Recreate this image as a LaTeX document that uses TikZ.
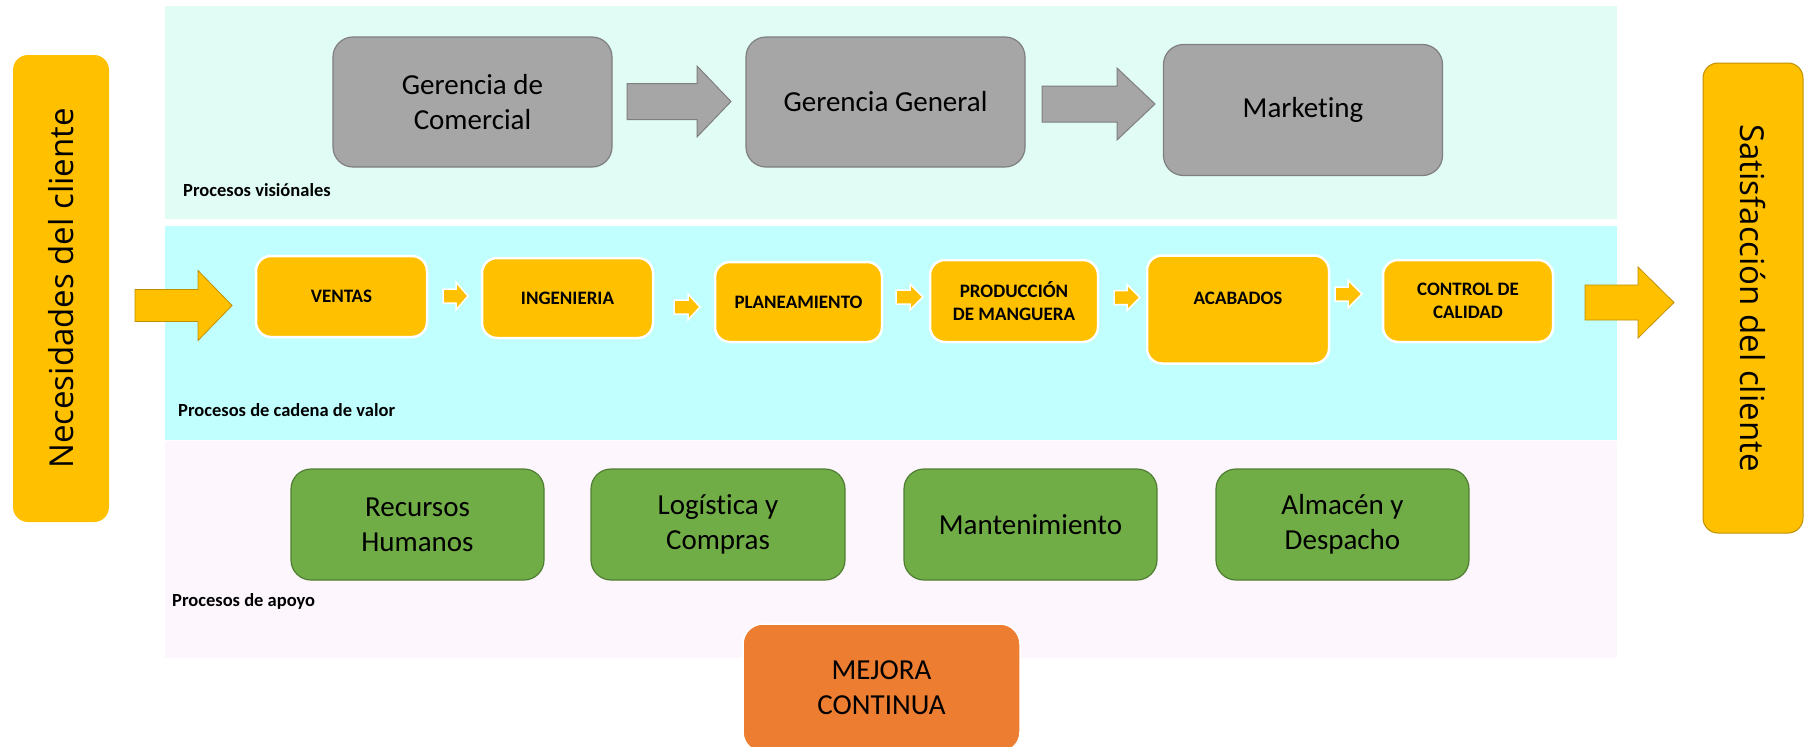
\documentclass[tikz,border=0pt]{standalone}
\usepackage{fontspec}
\setmainfont{Carlito}[Ligatures=NoCommon]
\newfontfamily\osans{Open Sans}
\usetikzlibrary{positioning}
\definecolor{bandA}{HTML}{E1FCF4}
\definecolor{bandB}{HTML}{C1FFFF}
\definecolor{bandC}{HTML}{FDF6FD}
\definecolor{gold}{HTML}{FFC000}
\definecolor{goldline}{HTML}{BF9000}
\definecolor{grayfill}{HTML}{A6A6A6}
\definecolor{grayline}{HTML}{7F7F7F}
\definecolor{greenfill}{HTML}{70AD47}
\definecolor{greenline}{HTML}{507E32}
\definecolor{orangefill}{HTML}{ED7D31}
\newcommand{\bigfont}{\fontsize{29}{35}\selectfont}
\newcommand{\smallbold}{\fontsize{19}{23}\selectfont\bfseries}
\newcommand{\bandfont}{\fontsize{18.5}{22}\selectfont\bfseries}
\newcommand{\sidefont}{\osans\fontsize{33}{40}\selectfont}
% block arrow: x0, xtip, xhead, yc, shaft half, head half, style
\newcommand{\blockarrow}[7]{%
  \draw[#7] (#1,#4-#5) -- (#3,#4-#5) -- (#3,#4-#6) -- (#2,#4) -- (#3,#4+#6) -- (#3,#4+#5) -- (#1,#4+#5) -- cycle;}
\begin{document}
\begin{tikzpicture}[x=1pt,y=-1pt,
  graybox/.style={rectangle, rounded corners=20pt, fill=grayfill, draw=grayline, line width=1.2pt,
    minimum width=279pt, minimum height=130pt, inner sep=0pt, align=center, font=\bigfont},
  valuebox/.style={rectangle, rounded corners=15pt, fill=gold, draw=white, line width=2.5pt,
    inner sep=0pt, align=center, font=\smallbold},
  greenbox/.style={rectangle, rounded corners=20pt, fill=greenfill, draw=greenline, line width=1.2pt,
    minimum width=253pt, minimum height=111pt, inner sep=0pt, align=center, font=\bigfont},
  sidebox/.style={rectangle, rounded corners=15pt, fill=gold, inner sep=0pt, font=\sidefont},
  grayarrow/.style={fill=grayfill, draw=grayline, line width=1pt},
  bigarrow/.style={fill=gold, draw=goldline, line width=0.8pt},
  smallarrow/.style={fill=gold, draw=white, line width=1.5pt, line join=miter},
  bandlabel/.style={font=\bandfont, anchor=base west, inner sep=0pt}
]
\clip (0,0) rectangle (1805,747);
\fill[white] (0,0) rectangle (1805,747);

% bands
\fill[bandA] (165,6) rectangle (1617,219);
\fill[bandB] (165,226) rectangle (1617,440);
\fill[bandC] (165,441) rectangle (1617,658);

% side boxes
\node[sidebox, rotate=90, minimum width=467pt, minimum height=96pt] (nec) at (61,288.5) {Necesidades del cliente};
\node[sidebox, rotate=-90, draw=goldline, line width=1pt, minimum width=470pt, minimum height=100pt] (sat) at (1753,298) {Satisfacción del cliente};

% visionary processes
\node[graybox] (gc) at (472.5,102) {Gerencia de\\Comercial};
\node[graybox] (gg) at (885.5,102) {Gerencia General};
\node[graybox, minimum height=131pt] (mk) at (1303,110) {Marketing};
\blockarrow{627}{731}{697}{101.5}{18}{35.5}{grayarrow}
\blockarrow{1042}{1155}{1117}{104}{18}{36}{grayarrow}
\node[bandlabel] (lv) at (183,196) {Procesos visiónales};

% value chain
\node[valuebox, minimum width=171pt, minimum height=81pt] (ven) at (341.5,296.5) {VENTAS};
\node[valuebox, minimum width=171pt, minimum height=80pt] (ing) at (567.5,298) {INGENIERIA};
\node[valuebox, minimum width=167pt, minimum height=80pt] (pla) at (798.5,302) {PLANEAMIENTO};
\node[valuebox, minimum width=168pt, minimum height=82pt] (pro) at (1014,301) {PRODUCCIÓN\\DE MANGUERA};
\node[valuebox, minimum width=182pt, minimum height=108pt] (aca) at (1238,309.5) {};
\node[font=\smallbold, inner sep=0pt] (acat) at ([yshift=11.5pt]aca.center) {ACABADOS};
\node[valuebox, minimum width=170pt, minimum height=82pt] (cal) at (1468,301) {CONTROL DE\\CALIDAD};

\blockarrow{135}{232}{198}{305.5}{16}{35}{bigarrow}
\blockarrow{1585}{1674}{1638}{302.5}{17.5}{35.5}{bigarrow}
\blockarrow{443}{468}{456}{296}{7}{14}{smallarrow}
\blockarrow{674}{700}{688}{307}{7}{13}{smallarrow}
\blockarrow{896}{923}{910}{297}{7}{13}{smallarrow}
\blockarrow{1114}{1140}{1127}{297.5}{7}{13}{smallarrow}
\blockarrow{1335}{1362}{1348}{294}{7}{14}{smallarrow}
\node[bandlabel] (lc) at (178,416) {Procesos de cadena de valor};

% support processes
\node[greenbox] (rh) at (417.5,524.5) {Recursos\\Humanos};
\node[greenbox, minimum width=254pt] (log) at (718,524.5) {Logística y\\Compras};
\node[greenbox] (man) at (1030.5,524.5) {Mantenimiento};
\node[greenbox] (alm) at (1342.5,524.5) {Almacén y\\Despacho};
\node[bandlabel] (la) at (172,606) {Procesos de apoyo};

% improvement
\node[rectangle, rounded corners=20pt, fill=orangefill, draw=white, line width=1.5pt,
  minimum width=277pt, minimum height=128pt, inner sep=0pt, align=center, font=\bigfont]
  (mej) at (881.5,688) {MEJORA\\CONTINUA};
\end{tikzpicture}
\end{document}
